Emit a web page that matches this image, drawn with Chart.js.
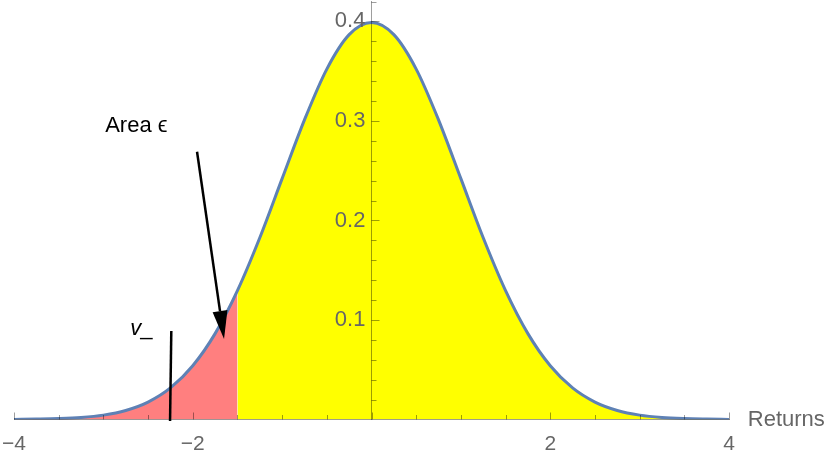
<!DOCTYPE html>
<html>
<head>
<meta charset="utf-8">
<script src="https://cdn.jsdelivr.net/npm/chart.js@4"></script>
<style>
  html, body { margin: 0; padding: 0; background: #fff; }
  #wrap { width: 830px; height: 461px; }
</style>
</head>
<body>
<div id="wrap"><canvas id="pdfChart"></canvas></div>
<script>
// returns grid and the density
const returns = [-4, -3.75, -3.5, -3.25, -3, -2.75, -2.5, -2.25, -2, -1.75, -1.5, -1.25, -1, -0.75, -0.5, -0.25,
    0, 0.25, 0.5, 0.75, 1, 1.25, 1.5, 1.75, 2, 2.25, 2.5, 2.75, 3, 3.25, 3.5, 3.75, 4];
const density = [0.0001, 0.0004, 0.0009, 0.0020, 0.0044, 0.0091, 0.0175, 0.0317, 0.0540, 0.0863, 0.1295, 0.1826, 0.2420, 0.3011, 0.3521, 0.3867,
    0.3989, 0.3867, 0.3521, 0.3011, 0.2420, 0.1826, 0.1295, 0.0863, 0.0540, 0.0317, 0.0175, 0.0091, 0.0044, 0.0020, 0.0009, 0.0004, 0.0001];
const cutoff = -1.5;
const vMinus = -2.25;
const xTickLabels = [-4, -2, 2, 4];
const yTickLabels = [0.1, 0.2, 0.3, 0.4];

const FONT = "'Liberation Sans', Arial, sans-serif";
const GREY = '#666666';
const AXIS = 'rgba(0,0,0,0.38)';

const curve = returns.map((x, i) => ({ x: x, y: density[i] }));
const tail = curve.filter(p => p.x <= cutoff);
const body = curve.filter(p => p.x >= cutoff);

function minusLabel(v) {
    return v < 0 ? '\u2212' + Math.abs(v) : String(v);
}

function noPad(s) {
    s.paddingLeft = 0;
    s.paddingRight = 0;
    s.paddingTop = 0;
    s.paddingBottom = 0;
}

// inner tick marks + the annotations, all placed through the scales
const extras = {
    id: 'extras',
    afterDraw(chart) {
        const ctx = chart.ctx;
        const xs = chart.scales.x, ys = chart.scales.y;
        const x0 = xs.getPixelForValue(0), y0 = ys.getPixelForValue(0);
        ctx.save();
        ctx.strokeStyle = AXIS;
        ctx.lineWidth = 1;
        ctx.beginPath();
        for (let v = -4; v <= 4.001; v += 0.5) {
            const px = Math.round(xs.getPixelForValue(v)) + 0.5;
            const len = Math.abs(v % 2) < 0.01 ? 7 : 4.5;
            ctx.moveTo(px, y0);
            ctx.lineTo(px, y0 - len);
        }
        for (let k = 1; k <= 21; k++) {
            const py = Math.round(ys.getPixelForValue(k * 0.02)) + 0.5;
            const len = k % 5 === 0 ? 8 : 5;
            ctx.moveTo(x0, py);
            ctx.lineTo(x0 + len, py);
        }
        ctx.stroke();

        // arrow pointing into the tail area
        const ax1 = xs.getPixelForValue(-1.952), ay1 = ys.getPixelForValue(0.269);
        const ax2 = xs.getPixelForValue(-1.65), ay2 = ys.getPixelForValue(0.081);
        const ang = Math.atan2(ay2 - ay1, ax2 - ax1);
        const headLen = 28, headW = 7.5;
        const bx = ax2 - headLen * Math.cos(ang), by = ay2 - headLen * Math.sin(ang);
        ctx.strokeStyle = '#000';
        ctx.fillStyle = '#000';
        ctx.lineWidth = 2.5;
        ctx.beginPath();
        ctx.moveTo(ax1, ay1);
        ctx.lineTo(bx, by);
        ctx.stroke();
        ctx.beginPath();
        ctx.moveTo(ax2, ay2);
        ctx.lineTo(bx + headW * Math.sin(ang), by - headW * Math.cos(ang));
        ctx.lineTo(bx - headW * Math.sin(ang), by + headW * Math.cos(ang));
        ctx.closePath();
        ctx.fill();

        // v_ marker line
        ctx.beginPath();
        ctx.moveTo(xs.getPixelForValue(vMinus + 0.01), ys.getPixelForValue(0.089));
        ctx.lineTo(xs.getPixelForValue(vMinus - 0.004), ys.getPixelForValue(-0.0015));
        ctx.stroke();

        ctx.textAlign = 'left';
        ctx.textBaseline = 'alphabetic';
        ctx.font = '22px ' + FONT;
        ctx.fillText('Area \u03F5', xs.getPixelForValue(-2.98), ys.getPixelForValue(0.2892));
        ctx.font = 'italic 22px ' + FONT;
        const vx = xs.getPixelForValue(-2.70), vy = ys.getPixelForValue(0.0849);
        ctx.fillText('v', vx, vy);
        ctx.font = '22px ' + FONT;
        ctx.fillText('_', vx + ctx.measureText('v').width - 1, vy);

        ctx.fillStyle = GREY;
        ctx.fillText('Returns', xs.getPixelForValue(4.21), ys.getPixelForValue(-0.0065));
        ctx.restore();
    }
};

const ctx = document.getElementById('pdfChart').getContext('2d');
const pdfChart = new Chart(ctx, {
    type: 'line',
    data: {
        datasets: [
            {
                data: curve,
                borderColor: '#5E81B5',
                borderWidth: 3,
                fill: false,
                pointRadius: 0,
                cubicInterpolationMode: 'monotone',
                order: 0
            },
            {
                data: tail,
                borderWidth: 0,
                backgroundColor: '#FF7F7F',
                fill: 'origin',
                pointRadius: 0,
                cubicInterpolationMode: 'monotone',
                order: 1
            },
            {
                data: body,
                borderWidth: 0,
                backgroundColor: '#FFFF00',
                fill: 'origin',
                pointRadius: 0,
                cubicInterpolationMode: 'monotone',
                order: 2
            }
        ]
    },
    options: {
        responsive: true,
        maintainAspectRatio: false,
        animation: false,
        events: [],
        layout: { padding: { left: 14, right: 101, top: 1.5, bottom: 41.5 } },
        plugins: { legend: { display: false }, tooltip: { enabled: false } },
        scales: {
            x: {
                type: 'linear',
                position: { y: 0 },
                min: -4,
                max: 4,
                afterFit: noPad,
                afterBuildTicks: s => { s.ticks = xTickLabels.map(v => ({ value: v })); },
                grid: { display: false, drawTicks: false },
                border: { display: true, color: AXIS, width: 1, z: 1 },
                ticks: {
                    z: 1,
                    color: GREY,
                    padding: 12,
                    maxRotation: 0,
                    autoSkip: false,
                    font: { family: FONT, size: 21 },
                    callback: v => minusLabel(v)
                }
            },
            y: {
                type: 'linear',
                position: { x: 0 },
                min: 0,
                max: 0.42,
                afterFit: noPad,
                afterBuildTicks: s => { s.ticks = yTickLabels.map(v => ({ value: v })); },
                grid: { display: false, drawTicks: false },
                border: { display: true, color: AXIS, width: 1, z: 1 },
                ticks: {
                    z: 1,
                    color: GREY,
                    autoSkip: false,
                    font: { family: FONT, size: 22 },
                    // trailing space keeps the label off the axis line
                    callback: v => v.toFixed(1) + ' '
                }
            }
        }
    },
    plugins: [extras]
});
</script>
</body>
</html>
